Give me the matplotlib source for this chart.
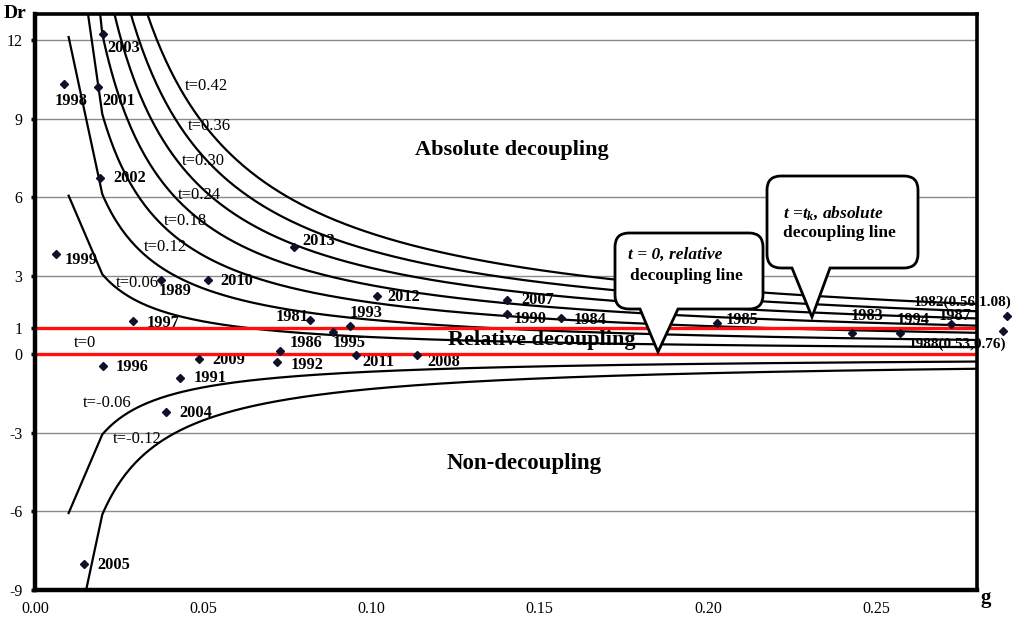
import numpy as np
import matplotlib
matplotlib.use("Agg")
import matplotlib.pyplot as plt
from matplotlib.path import Path
from matplotlib.patches import PathPatch

plt.rcParams['font.family'] = ['Liberation Serif', 'DejaVu Serif']
plt.rcParams['mathtext.fontset'] = 'custom'
plt.rcParams['mathtext.it'] = 'Liberation Serif:bold:italic'
plt.rcParams['mathtext.rm'] = 'Liberation Serif:bold'

# ---------------- data ----------------
years = ['2003', '1998', '2001', '2002', '1999', '1989', '2010', '1997', '1996',
         '2009', '1991', '2004', '2005', '2013', '1981', '1993', '1995', '2012',
         '1986', '1992', '2011', '2008', '2007', '1990', '1984', '1985', '1983',
         '1994', '1987', '1982', '1988']
g_vals = [0.0203, 0.0086, 0.0187, 0.0193, 0.0062, 0.0375, 0.0514, 0.0291, 0.0201,
          0.0486, 0.0432, 0.0390, 0.0147, 0.0769, 0.0818, 0.0935, 0.0886, 0.1017,
          0.0729, 0.0719, 0.0955, 0.1134, 0.1404, 0.1402, 0.1563, 0.2027, 0.2428,
          0.2571, 0.2723, 0.2890, 0.2878]
dr_vals = [12.24, 10.31, 10.21, 6.72, 3.84, 2.83, 2.83, 1.27, -0.45,
           -0.19, -0.89, -2.20, -8.02, 4.11, 1.30, 1.08, 0.86, 2.23,
           0.13, -0.28, -0.03, -0.03, 2.07, 1.53, 1.37, 1.18, 0.83,
           0.83, 1.15, 1.46, 0.89]
label_text = {'1982': '1982(0.56,1.08)', '1988': '1988(0.53,0.76)'}

# iso-t decoupling lines, Dr = t(1+g)/g, drawn from g = 0.01 to 0.30
t_levels = [0.42, 0.36, 0.30, 0.24, 0.18, 0.12, 0.06, -0.06, -0.12]
g_start, g_second, g_end = 0.01, 0.02, 0.30

x_ticks = [0.00, 0.05, 0.10, 0.15, 0.20, 0.25]
y_ticks = [-9, -6, -3, 0, 1, 3, 6, 9, 12]
grid_levels = [12, 9, 6, 3, -3, -6]

# ---------------- layout ----------------
W, H = 1017, 618
fig = plt.figure(figsize=(W / 100, H / 100), dpi=100)
L, R, T, B = 35, 977, 14, 590
ax = fig.add_axes([L / W, 1 - B / H, (R - L) / W, (B - T) / H])
ax.set_xlim(0, 0.28)
ax.set_ylim(-9, 13)

def px(x, y):
    """pixel (y down) -> figure fraction"""
    return (x / W, 1 - y / H)

for yv in grid_levels:
    ax.axhline(yv, color='#8a8a8a', lw=1.0, zorder=1)

gg = np.concatenate([[g_start], np.linspace(g_second, g_end, 400)])
for t in t_levels:
    ax.plot(gg, t * (1 + gg) / gg, color='black', lw=1.6, zorder=2)

ax.axhline(1, color='#ff1010', lw=2.4, zorder=4)
ax.axhline(0, color='#ff1010', lw=2.4, zorder=4)

ax.plot(g_vals, dr_vals, linestyle='none', marker='D', markersize=4.3,
        color='#10102a', zorder=5, clip_on=False)

# label offsets (pixels, x right / y down)
offs = {
    '2003': (4, 14, 'left'), '1998': (-9, 17, 'left'), '2001': (4, 14, 'left'),
    '2002': (13, 0, 'left'), '1999': (9, 6, 'left'), '1989': (-3, 11, 'left'),
    '2010': (12, 1, 'left'), '1997': (14, 2, 'left'), '1996': (13, 1, 'left'),
    '2009': (14, 1, 'left'), '1991': (13, 0, 'left'), '2004': (13, 1, 'left'),
    '2005': (13, 1, 'left'), '2013': (9, -6, 'left'), '1981': (-2, -3, 'right'),
    '1993': (0, -13, 'left'), '1995': (0, 11, 'left'), '2012': (10, 1, 'left'),
    '1986': (9, -8, 'left'), '1992': (14, 3, 'left'), '2011': (6, 7, 'left'),
    '2008': (11, 7, 'left'), '2007': (14, 0, 'left'), '1990': (7, 5, 'left'),
    '1984': (13, 2, 'left'), '1985': (9, -3, 'left'), '1983': (-1, -17, 'left'),
    '1994': (-3, -13, 'left'), '1987': (-12, -8, 'left'),
    '1982': (-94, -14, 'left'), '1988': (-95, 13, 'left'),
}
for yr, gv, dv in zip(years, g_vals, dr_vals):
    dx, dy, ha = offs[yr]
    ax.annotate(label_text.get(yr, yr), (gv, dv), xytext=(dx, -dy),
                textcoords='offset pixels', ha=ha, va='center',
                fontsize=11 if yr in label_text else 11.8,
                fontweight='bold', zorder=3, annotation_clip=False)

# curve labels (pixel centers)
t_label_pos = {'t=0.42': (206, 86), 't=0.36': (209, 126), 't=0.30': (203, 161),
               't=0.24': (199, 195), 't=0.18': (186, 221), 't=0.12': (165, 247),
               't=0.06': (137, 283), 't=0': (85, 343), 't=-0.06': (107, 403),
               't=-0.12': (137, 439)}
for s, (x, y) in t_label_pos.items():
    fig.text(*px(x, y), s, ha='center', va='center', fontsize=12, zorder=3)

# region labels
fig.text(*px(512, 150), 'Absolute decoupling', ha='center', va='center',
         fontsize=16, fontweight='bold')
fig.text(*px(542, 340), 'Relative decoupling', ha='center', va='center',
         fontsize=16, fontweight='bold', zorder=3)
fig.text(*px(524, 463), 'Non-decoupling', ha='center', va='center',
         fontsize=16.5, fontweight='bold')

# callouts
def callout(x0, x1, y0, y1, pa, pb, tip, r=14):
    verts = [(x0 + r, y0), (x1 - r, y0), (x1, y0), (x1, y0 + r), (x1, y1 - r),
             (x1, y1), (x1 - r, y1), (pb, y1), tip, (pa, y1), (x0 + r, y1),
             (x0, y1), (x0, y1 - r), (x0, y0 + r), (x0, y0), (x0 + r, y0),
             (x0 + r, y0)]
    codes = [Path.MOVETO, Path.LINETO, Path.CURVE3, Path.CURVE3, Path.LINETO,
             Path.CURVE3, Path.CURVE3, Path.LINETO, Path.LINETO, Path.LINETO,
             Path.LINETO, Path.CURVE3, Path.CURVE3, Path.LINETO, Path.CURVE3,
             Path.CURVE3, Path.CLOSEPOLY]
    path = Path([px(*v) for v in verts], codes)
    fig.add_artist(PathPatch(path, transform=fig.transFigure, facecolor='white',
                             edgecolor='black', lw=2.0, zorder=10))

callout(615, 763, 233, 309, 640, 678, (658, 352))
callout(767, 918, 176, 268, 792, 830, (812, 317))
fig.text(*px(628, 255), 't = 0, relative', ha='left', va='center', fontsize=12.5,
         fontweight='bold', fontstyle='italic', zorder=11)
fig.text(*px(630, 276), 'decoupling line', ha='left', va='center', fontsize=12.5,
         fontweight='bold', zorder=11)
fig.text(*px(783, 213), r'$t$ =$t_k$, absolute', ha='left', va='center', fontsize=12.5,
         fontweight='bold', fontstyle='italic', zorder=11)
fig.text(*px(783, 233), 'decoupling line', ha='left', va='center', fontsize=12.5,
         fontweight='bold', zorder=11)

# axes styling
ax.set_xticks(x_ticks)
ax.set_xticklabels([f'{v:.2f}' for v in x_ticks])
ax.set_yticks(y_ticks)
ax.set_yticklabels([str(v) for v in y_ticks])
ax.tick_params(axis='y', direction='out', length=3, width=2.5, labelsize=11.5, pad=6)
ax.tick_params(axis='x', length=0, labelsize=11.5, pad=8)
for side in ['left', 'bottom']:
    ax.spines[side].set_linewidth(3.2)
for side in ['top', 'right']:
    ax.spines[side].set_linewidth(2.6)
for sp in ax.spines.values():
    sp.set_zorder(6)

fig.text(*px(15, 14), 'Dr', ha='center', va='center', fontsize=14, fontweight='bold')
fig.text(*px(986, 598), 'g', ha='center', va='center', fontsize=15, fontweight='bold')

fig.savefig('out.png', dpi=100)
